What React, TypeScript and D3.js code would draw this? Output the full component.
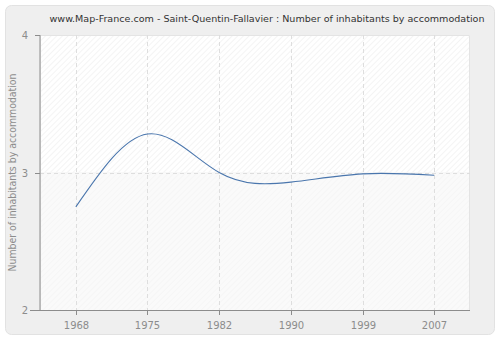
import React from 'react'
import * as d3 from 'd3'

const years = ['1968', '1975', '1982', '1990', '1999', '2007']
const inhabitants = [2.75, 3.28, 3.0, 2.93, 2.99, 2.98]
const yTicks = [2, 3, 4]
const title = 'www.Map-France.com - Saint-Quentin-Fallavier : Number of inhabitants by accommodation'
const yLabel = 'Number of inhabitants by accommodation'

export default function App() {
  const width = 500
  const height = 340
  const m = { t: 35, r: 30, b: 30, l: 40 }
  const innerW = width - m.l - m.r
  const innerH = height - m.t - m.b

  const x = d3.scalePoint().domain(years).range([0, innerW]).padding(0.5)
  const y = d3.scaleLinear().domain([2, 4]).range([innerH, 0])

  const pts = years.map((yr, i) => [x(yr) as number, y(inhabitants[i])] as [number, number])
  const line = d3.line().curve(d3.curveNatural)(pts) || ''
  const font = 'DejaVu Sans, Verdana, sans-serif'

  return (
    <svg width={width} height={height} style={{ position: 'absolute', left: 0, top: 0 }}>
      <defs>
        <pattern id="hatch" width="4" height="4" patternUnits="userSpaceOnUse" patternTransform="rotate(45)">
          <line x1="0" y1="0" x2="0" y2="4" stroke="#e9e9e9" strokeWidth="1" />
        </pattern>
        <pattern id="hatch2" width="4" height="4" patternUnits="userSpaceOnUse" patternTransform="rotate(45)">
          <line x1="0" y1="0" x2="0" y2="4" stroke="#f2f2f2" strokeWidth="1" />
        </pattern>
      </defs>
      <rect x={5.5} y={5.5} width={489} height={329} rx={6} fill="#efefef" stroke="#e2e2e2" />
      <text x={267} y={22} textAnchor="middle" fontFamily="DejaVu Sans Condensed, DejaVu Sans, sans-serif" fontSize={9.5} fill="#333"
        textLength={435} lengthAdjust="spacingAndGlyphs">{title}</text>
      <g transform={`translate(${m.l},${m.t})`}>
        <rect x={0} y={0} width={innerW} height={y(3)} fill="#ffffff" />
        <rect x={0} y={0} width={innerW} height={y(3)} fill="url(#hatch)" />
        <rect x={0} y={y(3)} width={innerW} height={innerH - y(3)} fill="#fafafa" />
        <rect x={0} y={y(3)} width={innerW} height={innerH - y(3)} fill="url(#hatch2)" />
        <path d={`M0.5,${innerH} V0.5 H${innerW - 0.5} V${innerH}`} fill="none" stroke="#e4e4e4" />
        {years.map(yr => (
          <line key={yr} x1={Math.round(x(yr) as number) + 0.5} x2={Math.round(x(yr) as number) + 0.5} y1={0} y2={innerH}
            stroke="#dedede" strokeDasharray="4,3" />
        ))}
        <line x1={0} x2={innerW} y1={Math.round(y(3)) + 0.5} y2={Math.round(y(3)) + 0.5} stroke="#dedede" strokeDasharray="4,3" />
        <path d={line} fill="none" stroke="#4a76ad" strokeWidth={1.1} />
        <line x1={0} x2={0} y1={0} y2={innerH} stroke="#8c8c8c" />
        <line x1={-10} x2={innerW} y1={innerH + 0.5} y2={innerH + 0.5} stroke="#8c8c8c" />
        {yTicks.map(t => (
          <g key={t} transform={`translate(0,${Math.round(y(t)) + 0.5})`}>
            <line x1={-5} x2={0} stroke="#8c8c8c" />
            <text x={-12} dy="0.35em" textAnchor="end" fontFamily={font} fontSize={10} fill="#8c8c8c">{t}</text>
          </g>
        ))}
        {years.map(yr => (
          <g key={yr} transform={`translate(${Math.round(x(yr) as number) + 0.5},${innerH})`}>
            <line y1={0} y2={5} stroke="#8c8c8c" />
            <text y={19} textAnchor="middle" fontFamily={font} fontSize={10} fill="#8c8c8c">{yr}</text>
          </g>
        ))}
      </g>
      <text transform={`translate(16,${m.t + innerH / 2}) rotate(-90)`} textAnchor="middle"
        fontFamily={font} fontSize={10} fill="#8c8c8c" textLength={198} lengthAdjust="spacingAndGlyphs">{yLabel}</text>
    </svg>
  )
}
